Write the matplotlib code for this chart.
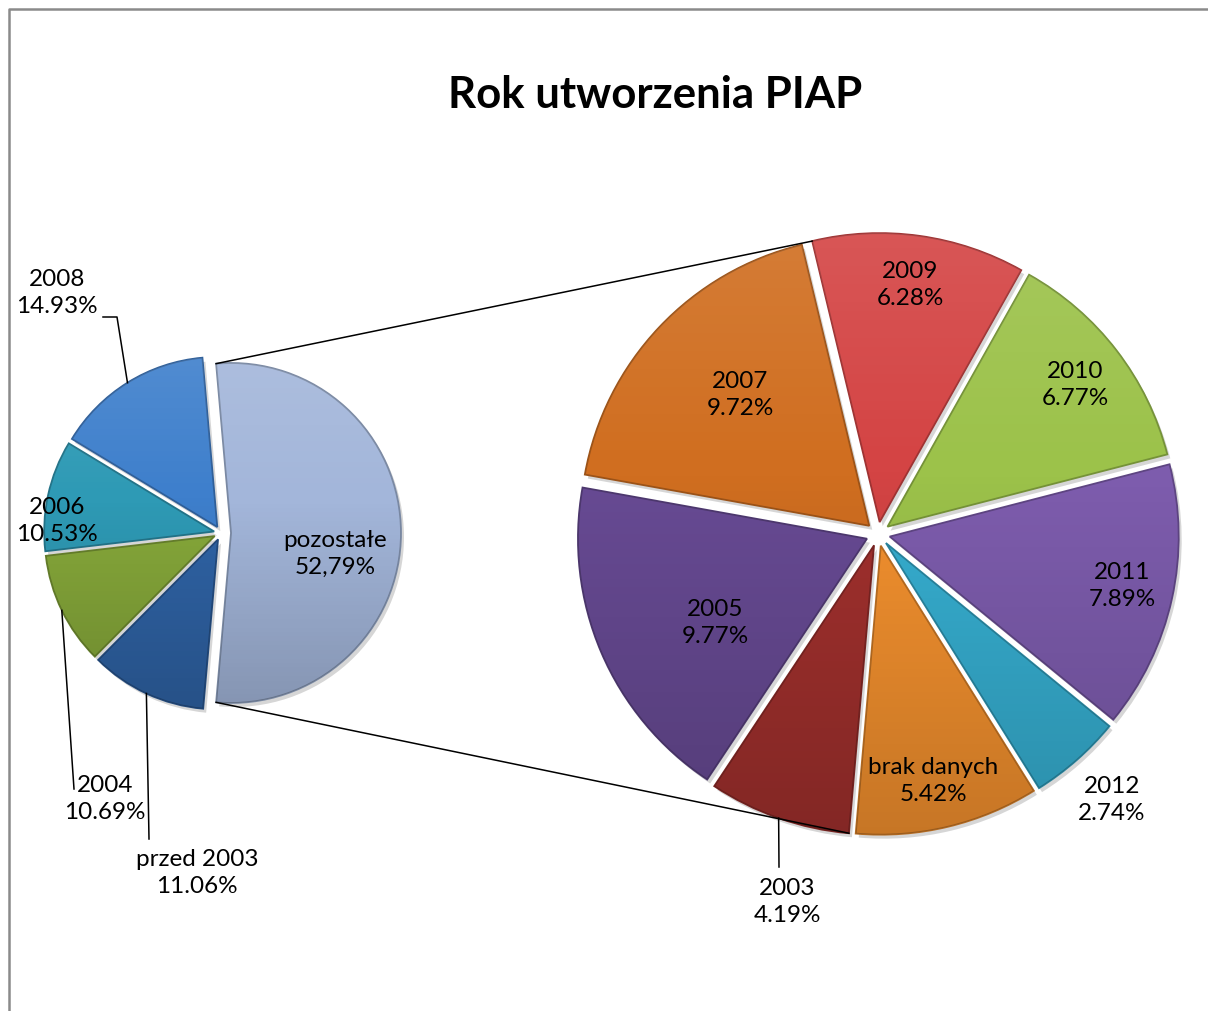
import numpy as np
import matplotlib.pyplot as plt
from matplotlib.patches import Wedge
from matplotlib.colors import to_rgb

plt.rcParams['font.family'] = ['Lato', 'DejaVu Sans']

# first pie (pozostałe is split into the second pie)
main_labels = ['pozostałe', '2008', '2006', '2004', 'przed 2003']
main_values = [52.79, 14.93, 10.53, 10.69, 11.06]
main_colors = ['#a3b6da', '#3e7fcc', '#2e9ab5', '#86a83a', '#2f63a5']

# second pie - breakdown of "pozostałe"
sub_labels = ['2009', '2010', '2011', '2012', 'brak danych', '2003', '2005', '2007']
sub_values = [6.28, 6.77, 7.89, 2.74, 5.42, 4.19, 9.77, 9.72]
sub_colors = ['#d44444', '#9cc24a', '#7d5cad', '#36aed0', '#f2902e',
              '#a0302d', '#674a93', '#d06e20']

W, H = 1208, 1012


def px(x, y):
    # image pixel coords -> data coords (y up)
    return x, H - y


def pct(label, v):
    s = f'{v:.2f}%'
    if label == 'pozostałe':
        s = s.replace('.', ',')
    return s


fig = plt.figure(figsize=(W / 100, H / 100), dpi=100)
ax = fig.add_axes([0, 0, 1, 1])

R1 = 170
R2 = 289
# explode is in data units (pixels here)
w_main, _ = ax.pie(main_values, radius=R1, center=px(221, 534),
                   startangle=-main_values[0] / 100 * 180, counterclock=True,
                   explode=[10] + [7] * 4, colors=main_colors,
                   wedgeprops=dict(linewidth=0))
w_sub, _ = ax.pie(sub_values, radius=R2, center=px(878, 535),
                  startangle=103.5, counterclock=False,
                  explode=[12] * len(sub_values), colors=sub_colors,
                  wedgeprops=dict(linewidth=0))

# gradient overlay: a bit lighter at top, darker at bottom
n = 256
t = np.linspace(0, 1, n)
grad = np.zeros((n, 1, 4))
grad[:, 0, :3] = (t < 0.4)[:, None] * 1.0
grad[:, 0, 3] = np.where(t < 0.4, 0.10 * (0.4 - t) / 0.4, 0.18 * (t - 0.4) / 0.6)

for w in list(w_main) + list(w_sub):
    cx, cy = w.center
    r = w.r
    col = np.array(to_rgb(w.get_facecolor()[:3]))
    w.set_edgecolor(col * 0.75)
    w.set_linewidth(1.3)
    w.set_zorder(2)
    sh = Wedge((cx + 3, cy - 4), r, w.theta1, w.theta2, color='black',
               alpha=0.16, zorder=1, linewidth=0)
    ax.add_patch(sh)
    im = ax.imshow(grad, extent=[cx - r, cx + r, cy - r, cy + r], zorder=2.5,
                   interpolation='bilinear', aspect='auto')
    im.set_clip_path(w)


def arc_pt(w, ang):
    a = np.radians(ang)
    return (w.center[0] + w.r * np.cos(a), w.center[1] + w.r * np.sin(a))


def mid_pt(w):
    return arc_pt(w, (w.theta1 + w.theta2) / 2)


# connector lines between the pies
pz = w_main[0]
top, bot = w_sub[0], w_sub[5]
for a, b in [(arc_pt(pz, pz.theta2), arc_pt(top, top.theta2)),
             (arc_pt(pz, pz.theta1), arc_pt(bot, bot.theta2))]:
    ax.plot([a[0], b[0]], [a[1], b[1]], color='black', lw=1.1, zorder=5)

fs = 17.5
main_pos = [(335, 554), (57, 293), (57, 521), (105, 799), (197, 873)]
sub_pos = [(910, 285), (1075, 385), (1122, 586), (1112, 800), (933, 781),
           (787, 902), (715, 623), (740, 395)]
for lab, v, p in zip(main_labels, main_values, main_pos):
    ax.text(*px(*p), f'{lab}\n{pct(lab, v)}', ha='center', va='center',
            fontsize=fs, linespacing=1.35, zorder=6)
for lab, v, p in zip(sub_labels, sub_values, sub_pos):
    ax.text(*px(*p), f'{lab}\n{pct(lab, v)}', ha='center', va='center',
            fontsize=fs, linespacing=1.35, zorder=6)

# leader lines
leaders = [(w_main[1], [(117, 318), (103, 318)]),
           (w_main[3], [(74, 790)]),
           (w_main[4], [(149, 840)]),
           (w_sub[5], [(779, 868)])]
for w, pts in leaders:
    xs = [mid_pt(w)[0]] + [px(*q)[0] for q in pts]
    ys = [mid_pt(w)[1]] + [px(*q)[1] for q in pts]
    ax.plot(xs, ys, color='black', lw=1.1, zorder=5)

ax.text(*px(655, 95), 'Rok utworzenia PIAP', ha='center', va='center',
        fontsize=31.5, fontweight='bold')

# chart frame (top and left edges visible)
ax.plot([9, 9, W], [0, H - 10, H - 10], color='#8a8a8a', lw=1.8,
        clip_on=False, zorder=7)

ax.set_xlim(0, W)
ax.set_ylim(0, H)
ax.set_aspect('equal')
ax.axis('off')

fig.savefig('out.png', dpi=100)
